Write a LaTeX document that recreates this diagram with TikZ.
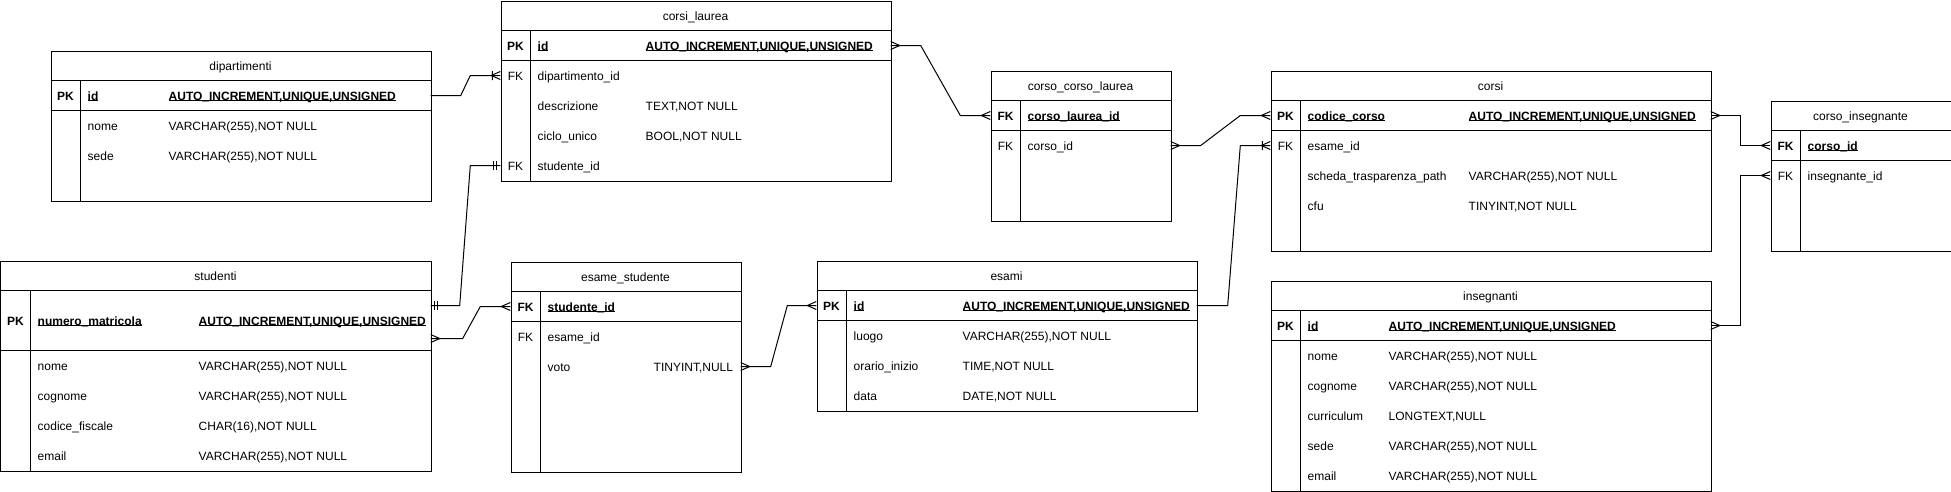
\documentclass[tikz,border=0pt]{standalone}
\usepackage{fontspec}
\setmainfont{Liberation Sans}
\usetikzlibrary{calc}
\newcommand\U[1]{\setbox0\hbox{#1}\rlap{\rule[-1.3pt]{\wd0}{0.9pt}}\box0}
\tikzset{
  txt/.style={inner sep=0, font=\fontsize{12}{14}\selectfont},
  pkt/.style={txt, font=\fontsize{12}{14}\selectfont\bfseries},
  plt/.style={txt},
  rowbox/.style={inner sep=0, minimum height=30pt, draw=none},
  tblbox/.style={draw, line width=1pt, inner sep=0},
  tblline/.style={line width=1pt},
  conn/.style={line width=1pt},
  pics/many/.style={code={\draw[conn] (-9,0) -- (0,4) (-9,0) -- (0,-4);}},
  pics/onemany/.style={code={\draw[conn] (-9,0) -- (0,4) (-9,0) -- (0,-4) (-8,4.5) -- (-8,-4.5);}},
  pics/mandone/.style={code={\draw[conn] (-4,4.5) -- (-4,-4.5) (-7,4.5) -- (-7,-4.5);}},
}
% #1 name, #2 left, #3 top, #4 width, #5 height, #6 title, #7 pk row height
\newcommand\ertab[7]{%
  \node[tblbox, minimum width=#4pt, minimum height=#5pt, anchor=north west] (#1) at (#2,-#3) {};
  \node[txt, anchor=base] (#1-title) at ({#2+#4/2},{-#3-19.5}) {#6};
  \draw[tblline] (#2,{-#3-30}) -- ++(#4,0);
  \draw[tblline] (#2,{-#3-30-#7}) -- ++(#4,0);
  \draw[tblline] ({#2+30},{-#3-30}) -- ({#2+30},{-#3-#5});
}
% #1 name, #2 left, #3 width, #4 y centre, #5 style, #6 key, #7 field, #8 type x, #9 type
\newcommand\errow[9]{%
  \node[rowbox, minimum width=#3pt] (#1) at ({#2+#3/2},-#4) {};
  \node[#5, anchor=base] (#1-k) at ({#2+15},{-#4-4.5}) {#6};
  \node[#5, anchor=base west] (#1-f) at ({#2+37},{-#4-4.5}) {#7};
  \node[#5, anchor=base west] (#1-t) at (#8,{-#4-4.5}) {#9};
}
\begin{document}
\begin{tikzpicture}[x=1pt,y=1pt]
\fill[white] (-0.5,0.5) rectangle (1950.5,-490.5);
\useasboundingbox (-0.5,0.5) rectangle (1950.5,-490.5);

% dipartimenti
\ertab{dip}{50}{50}{380}{150}{dipartimenti}{30}
\errow{dip-id}{50}{380}{95}{pkt}{PK}{\U{id}}{168}{\U{AUTO\_INCREMENT,UNIQUE,UNSIGNED}}
\errow{dip-nome}{50}{380}{125}{plt}{}{nome}{168}{VARCHAR(255),NOT NULL}
\errow{dip-sede}{50}{380}{155}{plt}{}{sede}{168}{VARCHAR(255),NOT NULL}

% corsi_laurea
\ertab{cl}{500}{0}{390}{180}{corsi\_laurea}{30}
\errow{cl-id}{500}{390}{45}{pkt}{PK}{\U{id}}{645}{\U{AUTO\_INCREMENT,UNIQUE,UNSIGNED}}
\errow{cl-dip}{500}{390}{75}{plt}{FK}{dipartimento\_id}{645}{}
\errow{cl-desc}{500}{390}{105}{plt}{}{descrizione}{645}{TEXT,NOT NULL}
\errow{cl-ciclo}{500}{390}{135}{plt}{}{ciclo\_unico}{645}{BOOL,NOT NULL}
\errow{cl-stu}{500}{390}{165}{plt}{FK}{studente\_id}{645}{}

% corso_corso_laurea
\ertab{ccl}{990}{70}{180}{150}{corso\_corso\_laurea}{30}
\errow{ccl-cl}{990}{180}{115}{pkt}{FK}{\U{corso\_laurea\_id}}{1100}{}
\errow{ccl-c}{990}{180}{145}{plt}{FK}{corso\_id}{1100}{}

% corsi
\ertab{corsi}{1270}{70}{440}{180}{corsi}{30}
\errow{corsi-cc}{1270}{440}{115}{pkt}{PK}{\U{codice\_corso}}{1468}{\U{AUTO\_INCREMENT,UNIQUE,UNSIGNED}}
\errow{corsi-e}{1270}{440}{145}{plt}{FK}{esame\_id}{1468}{}
\errow{corsi-s}{1270}{440}{175}{plt}{}{scheda\_trasparenza\_path}{1468}{VARCHAR(255),NOT NULL}
\errow{corsi-cfu}{1270}{440}{205}{plt}{}{cfu}{1468}{TINYINT,NOT NULL}

% corso_insegnante
\ertab{ci}{1770}{100}{180}{150}{corso\_insegnante}{30}
\errow{ci-c}{1770}{180}{145}{pkt}{FK}{\U{corso\_id}}{1900}{}
\errow{ci-i}{1770}{180}{175}{plt}{FK}{insegnante\_id}{1900}{}

% insegnanti
\ertab{ins}{1270}{280}{440}{210}{insegnanti}{30}
\errow{ins-id}{1270}{440}{325}{pkt}{PK}{\U{id}}{1388}{\U{AUTO\_INCREMENT,UNIQUE,UNSIGNED}}
\errow{ins-nome}{1270}{440}{355}{plt}{}{nome}{1388}{VARCHAR(255),NOT NULL}
\errow{ins-cog}{1270}{440}{385}{plt}{}{cognome}{1388}{VARCHAR(255),NOT NULL}
\errow{ins-cur}{1270}{440}{415}{plt}{}{curriculum}{1388}{LONGTEXT,NULL}
\errow{ins-sede}{1270}{440}{445}{plt}{}{sede}{1388}{VARCHAR(255),NOT NULL}
\errow{ins-mail}{1270}{440}{475}{plt}{}{email}{1388}{VARCHAR(255),NOT NULL}

% studenti
\ertab{stu}{0}{260}{430}{210}{studenti}{60}
\errow{stu-pk}{0}{430}{320}{pkt}{PK}{\U{numero\_matricola}}{198}{\U{AUTO\_INCREMENT,UNIQUE,UNSIGNED}}
\errow{stu-nome}{0}{430}{365}{plt}{}{nome}{198}{VARCHAR(255),NOT NULL}
\errow{stu-cog}{0}{430}{395}{plt}{}{cognome}{198}{VARCHAR(255),NOT NULL}
\errow{stu-cf}{0}{430}{425}{plt}{}{codice\_fiscale}{198}{CHAR(16),NOT NULL}
\errow{stu-mail}{0}{430}{455}{plt}{}{email}{198}{VARCHAR(255),NOT NULL}

% esame_studente
\ertab{es}{510}{261}{230}{210}{esame\_studente}{30}
\errow{es-stu}{510}{230}{306}{pkt}{FK}{\U{studente\_id}}{653}{}
\errow{es-e}{510}{230}{336}{plt}{FK}{esame\_id}{653}{}
\errow{es-voto}{510}{230}{366}{plt}{}{voto}{653}{TINYINT,NULL}

% esami
\ertab{esami}{816}{260}{380}{150}{esami}{30}
\errow{esami-id}{816}{380}{305}{pkt}{PK}{\U{id}}{962}{\U{AUTO\_INCREMENT,UNIQUE,UNSIGNED}}
\errow{esami-l}{816}{380}{335}{plt}{}{luogo}{962}{VARCHAR(255),NOT NULL}
\errow{esami-o}{816}{380}{365}{plt}{}{orario\_inizio}{962}{TIME,NOT NULL}
\errow{esami-d}{816}{380}{395}{plt}{}{data}{962}{DATE,NOT NULL}

% connectors
\coordinate (stu-a) at ($(stu-pk.east)+(0,15)$);
\coordinate (stu-b) at ($(stu-pk.east)+(0,-18)$);

\draw[conn] (dip-id.east) -- ++(30,0) -- ($(cl-dip.west)+(-30,0)$) -- (cl-dip.west);
\pic at (cl-dip.west) {onemany};

\draw[conn] (stu-a) -- ++(29,0) -- ($(cl-stu.west)+(-30,0)$) -- (cl-stu.west);
\pic at (cl-stu.west) {mandone};
\pic[xscale=-1] at (stu-a) {mandone};

\draw[conn] (stu-b) -- ++(32,0) -- ($(es-stu.west)+(-30,0)$) -- (es-stu.west);
\pic at (es-stu.west) {many};
\pic[xscale=-1] at (stu-b) {many};

\draw[conn] (cl-id.east) -- ++(30,0) -- ($(ccl-cl.west)+(-30,0)$) -- (ccl-cl.west);
\pic at (ccl-cl.west) {many};
\pic[xscale=-1] at (cl-id.east) {many};

\draw[conn] (ccl-c.east) -- ++(30,0) -- ($(corsi-cc.west)+(-30,0)$) -- (corsi-cc.west);
\pic at (corsi-cc.west) {many};
\pic[xscale=-1] at (ccl-c.east) {many};

\draw[conn] (esami-id.east) -- ++(31,0) -- ($(corsi-e.west)+(-30,0)$) -- (corsi-e.west);
\pic at (corsi-e.west) {onemany};

\draw[conn] (es-voto.east) -- ++(30,0) -- ($(esami-id.west)+(-29,0)$) -- (esami-id.west);
\pic at (esami-id.west) {many};
\pic[xscale=-1] at (es-voto.east) {many};

\draw[conn] (corsi-cc.east) -- ++(30,0) |- (ci-c.west);
\pic at (ci-c.west) {many};
\pic[xscale=-1] at (corsi-cc.east) {many};

\draw[conn] (ins-id.east) -- ++(30,0) |- (ci-i.west);
\pic at (ci-i.west) {many};
\pic[xscale=-1] at (ins-id.east) {many};
\end{tikzpicture}
\end{document}
